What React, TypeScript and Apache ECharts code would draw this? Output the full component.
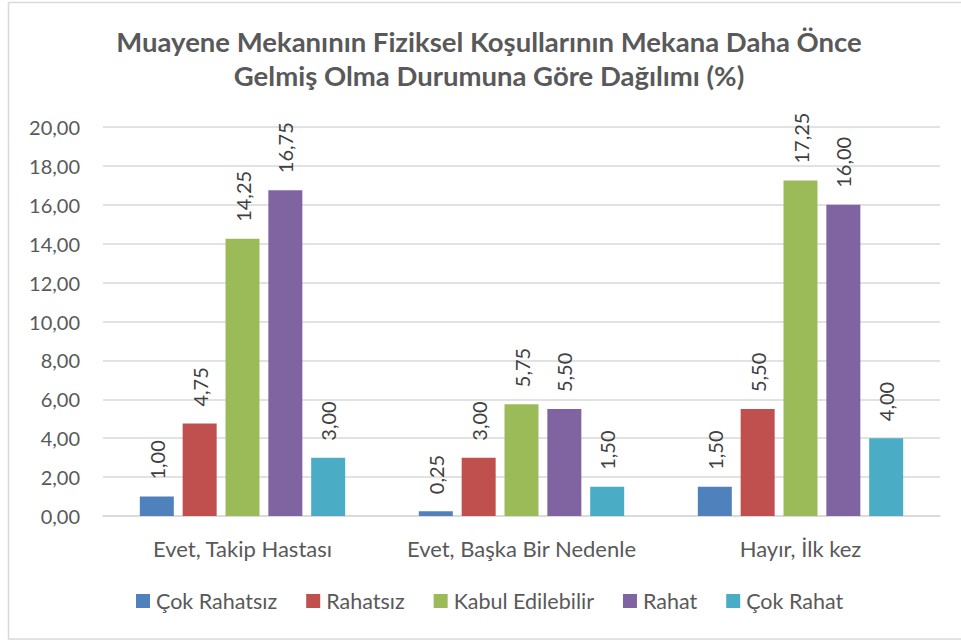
import React, { useEffect, useRef } from "react";
import * as echarts from "echarts";

const categories = ["Evet, Takip Hastası", "Evet, Başka Bir Nedenle", "Hayır, İlk kez"];
const seriesNames = ["Çok Rahatsız", "Rahatsız", "Kabul Edilebilir", "Rahat", "Çok Rahat"];
const cokRahatsiz = [1.0, 0.25, 1.5];
const rahatsiz = [4.75, 3.0, 5.5];
const kabulEdilebilir = [14.25, 5.75, 17.25];
const rahat = [16.75, 5.5, 16.0];
const cokRahat = [3.0, 1.5, 4.0];
const seriesValues = [cokRahatsiz, rahatsiz, kabulEdilebilir, rahat, cokRahat];
const colors = ["#4F81BD", "#C0504D", "#9BBB59", "#8064A2", "#4BACC6"];

const FONT = "Lato";
const fmt = (v: number) => v.toFixed(2).replace(".", ",");

export default function App() {
  const ref = useRef<HTMLDivElement>(null);
  useEffect(() => {
    if (!ref.current) return;
    const chart = echarts.init(ref.current, null, { renderer: "svg" });
    chart.setOption({
      animation: false,
      textStyle: { fontFamily: FONT },
      title: {
        text: "Muayene Mekanının Fiziksel Koşullarının Mekana Daha Önce\nGelmiş Olma Durumuna Göre Dağılımı (%)",
        left: 484,
        textAlign: "center",
        top: 20,
        textStyle: {
          fontFamily: FONT,
          fontSize: 27.5,
          fontWeight: "bold",
          color: "#595959",
          lineHeight: 33.5,
        },
      },
      graphic: [
        {
          type: "rect",
          shape: { x: 8.5, y: 2.5, width: 960, height: 636.5 },
          style: { fill: "none", stroke: "#d9d9d9", lineWidth: 1.5 },
          silent: true,
        },
      ],
      legend: {
        top: 585,
        left: 131,
        icon: "rect",
        itemWidth: 14,
        itemHeight: 14,
        itemGap: 29,
        data: seriesNames,
        textStyle: { fontFamily: FONT, fontSize: 21.5, color: "#595959", padding: [0, 0, 0, 1] },
      },
      grid: { left: 103, right: 21, top: 127, bottom: 125, containLabel: false },
      xAxis: {
        type: "category",
        data: categories,
        axisLine: { lineStyle: { color: "#d9d9d9", width: 1.5 } },
        axisTick: { show: false },
        axisLabel: {
          fontFamily: FONT,
          fontSize: 22,
          color: "#595959",
          margin: 21,
          interval: 0,
          hideOverlap: false,
        },
      },
      yAxis: {
        type: "value",
        min: 0,
        max: 20,
        interval: 2,
        axisLine: { show: false },
        axisTick: { show: false },
        splitLine: { lineStyle: { color: "#d9d9d9", width: 1.5 } },
        axisLabel: {
          fontFamily: FONT,
          fontSize: 20,
          color: "#595959",
          margin: 23,
          formatter: (v: number) => fmt(v),
        },
      },
      series: seriesNames.map((name, i) => ({
        name,
        type: "bar",
        data: seriesValues[i],
        barWidth: 34,
        barGap: "26%",
        itemStyle: { color: colors[i] },
        label: {
          show: true,
          position: "top",
          rotate: 90,
          align: "left",
          verticalAlign: "middle",
          distance: 17,
          fontFamily: FONT,
          fontSize: 20,
          color: "#404040",
          formatter: (p: any) => fmt(p.value),
        },
      })),
    });
    return () => chart.dispose();
  }, []);
  return (
    <div
      ref={ref}
      style={{ position: "absolute", left: 0, top: 0, width: 961, height: 641 }}
    />
  );
}
